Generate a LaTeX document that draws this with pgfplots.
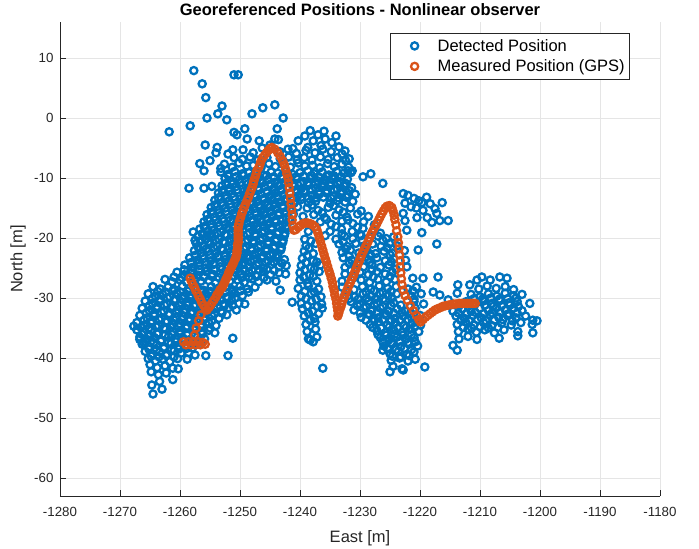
\documentclass[border=0pt]{standalone}
\usepackage{fontspec}
\setmainfont{Liberation Sans}
\usepackage{pgfplots}
\pgfplotsset{compat=1.18}
\definecolor{mblue}{rgb}{0,0.447,0.741}
\definecolor{morange}{rgb}{0.85,0.325,0.098}
\definecolor{axgray}{rgb}{0.15,0.15,0.15}
\definecolor{gridgray}{rgb}{0.9,0.9,0.9}

\pgfplotsset{
  ringmark/.style={only marks, mark=o, mark size=3.6pt, line width=2.3pt,
    mark options={line width=2.3pt, solid},
    legend image code/.code={\path[draw=none,fill=none] (0pt,-4pt) rectangle (42pt,4pt);
      \draw[mark repeat=2,mark phase=2,##1] plot coordinates {(0pt,0pt) (21pt,0pt) (42pt,0pt)};}},
}

\begin{document}
\begin{tikzpicture}
\path[use as bounding box] (-60pt,-53pt) rectangle (639pt,496pt);
\begin{axis}[
  at={(0pt,0pt)}, anchor=south west,
  scale only axis, width=600pt, height=474pt,
  xmin=-1280, xmax=-1180, ymin=-63, ymax=16,
  xtick={-1280,-1270,...,-1180}, ytick={-60,-50,...,10},
  axis x line*=bottom, axis y line*=left,
  axis line style={-, color=axgray, line width=0.8pt},
  every tick/.style={color=axgray, line width=0.8pt},
  tick align=inside, major tick length=6pt,
  grid=major, major grid style={color=gridgray, line width=0.8pt},
  ticklabel style={font=\fontsize{13.3}{15}\selectfont, color=axgray},
  /pgf/number format/assume math mode=true,
  /pgf/number format/1000 sep={},
  xticklabel style={yshift=-8pt},
  yticklabel style={xshift=-3pt},
  xlabel={East [m]}, ylabel={North [m]},
  label style={font=\fontsize{16.5}{19}\selectfont, color=axgray},
  xlabel style={at={(axis description cs:0.5,-0.0885)}, anchor=center},
  ylabel style={at={(axis description cs:-0.07,0.5)}, anchor=center},
  title={Georeferenced Positions - Nonlinear observer},
  title style={font=\fontsize{16.5}{19}\selectfont\bfseries, at={(axis description cs:0.5,1)}, anchor=center, yshift=6.5pt},
  legend style={at={(axis description cs:0.95,0.977)}, anchor=north east,
    draw=axgray, line width=0.6pt, fill=white,
    font=\fontsize{16.5}{19}\selectfont, inner xsep=3pt, inner ysep=4pt,
    row sep=3pt},
  legend cell align=left,
]

% Detected positions
\addplot[ringmark, color=mblue] coordinates {
(-1257.7,7.9) (-1251.0,7.2) (-1250.3,7.2) (-1256.3,5.7) (-1255.7,3.4) (-1255.5,0.0)
(-1253.0,2.0) (-1253.7,0.7) (-1252.2,-0.3) (-1248.0,0.7) (-1246.2,1.7) (-1244.2,2.2)
(-1242.8,0.0) (-1261.8,-2.3) (-1258.3,-1.3) (-1249.2,-1.8) (-1251.0,-2.4) (-1250.5,-2.8)
(-1248.8,-3.5) (-1243.8,-1.8) (-1255.8,-4.5) (-1253.8,-4.9) (-1254.0,-5.8) (-1251.2,-5.3)
(-1256.7,-7.6) (-1256.0,-8.8) (-1255.0,-7.1) (-1253.2,-8.4) (-1258.5,-11.7) (-1256.0,-11.7)
(-1254.7,-11.4) (-1246.8,-3.8) (-1245.0,-4.5) (-1243.6,-3.6)
(-1238.3,-2.1) (-1240.3,-3.8) (-1239.2,-3.0) (-1237.8,-3.8) (-1237.0,-2.8) (-1236.0,-2.2)
(-1235.8,-3.5) (-1234.7,-4.1) (-1234.0,-3.0) (-1236.5,-4.6) (-1238.7,-4.9) (-1233.5,-4.8)
(-1232.5,-5.5) (-1231.8,-6.8) (-1241.2,-5.1) (-1244.2,-3.5)
(-1231.3,-8.8) (-1229.5,-9.8) (-1228.2,-9.3) (-1226.2,-10.9) (-1232.0,-8.8)
(-1249.5,-5.3) (-1247.8,-5.8) (-1243.4,-5.6) (-1242.0,-5.2) (-1240.6,-5.9) (-1239.0,-5.4)
(-1237.5,-5.8) (-1236.2,-5.2) (-1234.8,-5.6) (-1233.0,-6.0) (-1252.0,-6.0) (-1246.3,-5.0)
(-1251.0,-6.6) (-1249.6,-6.9) (-1248.3,-6.5) (-1247.0,-7.0) (-1245.5,-6.6) (-1243.3,-6.8)
(-1241.9,-6.5) (-1240.5,-7.0) (-1239.3,-6.6) (-1238.0,-7.0) (-1236.6,-6.5) (-1235.3,-6.9)
(-1233.8,-6.6) (-1232.4,-7.1)
(-1252.6,-7.7) (-1251.3,-8.2) (-1250.2,-7.5) (-1248.9,-8.0) (-1247.8,-7.9) (-1246.5,-8.3)
(-1245.2,-7.6) (-1244.1,-8.1) (-1242.8,-7.7) (-1241.6,-8.2) (-1240.3,-7.5) (-1239.2,-8.0)
(-1237.9,-7.9) (-1236.7,-8.3) (-1235.4,-7.6) (-1234.3,-8.1) (-1233.0,-7.7) (-1231.9,-8.2)
(-1253.2,-9.0) (-1252.0,-9.4) (-1250.9,-8.9) (-1249.6,-9.3) (-1248.5,-9.1) (-1247.2,-8.8)
(-1246.1,-9.5) (-1244.8,-9.0) (-1243.7,-9.2) (-1242.4,-8.9) (-1241.2,-9.4) (-1240.0,-9.1)
(-1238.7,-8.8) (-1237.6,-9.3) (-1236.3,-9.0) (-1235.2,-9.5) (-1233.9,-8.9) (-1232.7,-9.2)
(-1231.5,-9.1)
(-1252.5,-10.1) (-1251.4,-10.5) (-1250.1,-10.2) (-1249.0,-10.6) (-1247.7,-10.0) (-1246.6,-10.4)
(-1245.3,-10.3) (-1244.2,-10.7) (-1242.9,-10.1) (-1241.8,-10.4) (-1240.5,-10.2) (-1239.4,-10.6)
(-1238.1,-10.0) (-1237.0,-10.5) (-1235.7,-10.3) (-1234.6,-10.1) (-1233.3,-10.6) (-1232.1,-10.2)
(-1253.0,-11.3) (-1251.8,-11.7) (-1250.6,-11.4) (-1249.5,-11.8) (-1248.2,-11.2) (-1247.0,-11.6)
(-1245.9,-11.5) (-1244.6,-11.9) (-1243.5,-11.3) (-1242.2,-11.6) (-1241.0,-11.4) (-1239.8,-11.8)
(-1238.6,-11.2) (-1237.4,-11.7) (-1236.2,-11.5) (-1235.0,-11.3) (-1233.8,-11.8) (-1232.6,-11.4)
(-1231.4,-11.6)
(-1253.6,-12.5) (-1252.4,-12.9) (-1251.3,-12.6) (-1250.0,-13.0) (-1248.9,-12.4) (-1247.6,-12.8)
(-1246.5,-12.7) (-1245.2,-13.1) (-1244.1,-12.5) (-1242.8,-12.8) (-1241.6,-12.6) (-1240.4,-13.0)
(-1239.2,-12.4) (-1238.0,-12.9) (-1236.8,-12.7) (-1235.6,-12.5) (-1234.4,-13.0) (-1233.2,-12.6)
(-1232.0,-12.8) (-1230.8,-12.7)
(-1254.2,-13.7) (-1253.0,-14.1) (-1251.8,-13.8) (-1250.7,-14.2) (-1249.4,-13.6) (-1248.3,-14.0)
(-1247.0,-13.9) (-1245.9,-14.3) (-1244.6,-13.7) (-1243.5,-14.0) (-1242.2,-13.8) (-1241.0,-14.2)
(-1239.8,-13.6) (-1238.6,-14.1) (-1237.4,-13.9) (-1235.0,-14.2) (-1233.8,-13.8) (-1232.5,-14.0)
(-1231.2,-13.9)
(-1254.8,-14.9) (-1253.6,-15.3) (-1252.4,-15.0) (-1251.3,-15.4) (-1250.0,-14.8) (-1248.9,-15.2)
(-1247.6,-15.1) (-1246.5,-15.5) (-1245.2,-14.9) (-1244.1,-15.2) (-1242.8,-15.0) (-1241.6,-15.4)
(-1240.4,-14.8) (-1238.8,-15.0) (-1237.0,-15.4) (-1235.3,-14.9) (-1233.5,-15.3) (-1231.6,-15.0)
(-1229.8,-15.5)
(-1255.5,-16.1) (-1254.3,-16.5) (-1253.2,-16.2) (-1251.9,-16.6) (-1250.8,-16.0) (-1249.5,-16.4)
(-1248.4,-16.3) (-1247.1,-16.7) (-1246.0,-16.1) (-1244.7,-16.4) (-1243.6,-16.2) (-1242.3,-16.6)
(-1241.1,-16.0) (-1239.5,-16.4) (-1237.7,-16.1) (-1235.9,-16.6) (-1234.0,-16.2) (-1232.2,-16.5)
(-1230.4,-16.0) (-1228.6,-16.4)
(-1256.0,-17.3) (-1254.8,-17.7) (-1253.6,-17.4) (-1252.5,-17.8) (-1251.2,-17.2) (-1250.1,-17.6)
(-1248.8,-17.5) (-1247.7,-17.9) (-1246.4,-17.3) (-1245.3,-17.6) (-1244.0,-17.4) (-1242.9,-17.8)
(-1241.6,-17.2) (-1236.6,-17.3) (-1234.8,-17.7) (-1233.0,-17.2) (-1231.2,-17.6) (-1229.4,-17.3)
(-1227.6,-17.8)
(-1256.7,-18.5) (-1255.5,-18.9) (-1254.3,-18.6) (-1253.2,-19.0) (-1251.9,-18.4) (-1250.8,-18.8)
(-1249.5,-18.7) (-1248.4,-19.1) (-1247.1,-18.5) (-1246.0,-18.8) (-1244.7,-18.6) (-1243.6,-19.0)
(-1242.3,-18.4) (-1238.6,-18.9) (-1235.0,-18.9) (-1233.1,-18.5) (-1231.3,-18.9) (-1229.5,-18.4)
(-1227.8,-18.8) (-1257.8,-19.0) (-1257.5,-20.4) (-1255.5,-19.5)
(-1257.0,-19.7) (-1255.8,-20.1) (-1254.6,-19.8) (-1253.5,-20.2) (-1252.2,-19.6) (-1251.1,-20.0)
(-1249.8,-19.9) (-1248.7,-20.3) (-1247.4,-19.7) (-1246.3,-20.0) (-1245.0,-19.8) (-1243.9,-20.2)
(-1242.6,-19.6) (-1239.2,-20.2) (-1235.8,-19.6) (-1234.0,-20.2) (-1232.6,-19.7) (-1231.2,-20.1)
(-1229.8,-19.6) (-1228.4,-20.0) (-1227.0,-19.7) (-1225.6,-20.1) (-1224.4,-19.8)
(-1257.3,-20.9) (-1256.2,-21.3) (-1254.9,-21.0) (-1253.8,-21.4) (-1252.5,-20.8) (-1251.4,-21.2)
(-1250.1,-21.1) (-1249.0,-21.5) (-1247.7,-20.9) (-1246.6,-21.2) (-1245.3,-21.0) (-1244.2,-21.4)
(-1242.9,-20.8) (-1239.0,-21.3) (-1237.4,-20.9) (-1233.5,-21.0) (-1232.1,-21.4) (-1230.7,-20.9)
(-1229.3,-21.3) (-1227.9,-21.0) (-1226.5,-21.4) (-1225.1,-20.9) (-1223.8,-21.3)
(-1257.6,-22.1) (-1256.5,-22.5) (-1255.2,-22.2) (-1254.1,-22.6) (-1252.8,-22.0) (-1251.7,-22.4)
(-1250.4,-22.3) (-1249.3,-22.7) (-1248.0,-22.1) (-1246.9,-22.4) (-1245.6,-22.2) (-1244.5,-22.6)
(-1243.2,-22.0) (-1239.3,-22.2) (-1237.8,-22.6) (-1233.0,-22.4) (-1231.6,-22.0) (-1230.2,-22.5)
(-1228.8,-22.1) (-1227.4,-22.6) (-1226.0,-22.2) (-1224.6,-22.5) (-1222.6,-22.1)
(-1258.4,-23.3) (-1257.2,-23.7) (-1256.0,-23.4) (-1254.9,-23.8) (-1253.6,-23.2) (-1252.5,-23.6)
(-1251.2,-23.5) (-1250.1,-23.9) (-1248.8,-23.3) (-1247.7,-23.6) (-1246.4,-23.4) (-1245.3,-23.8)
(-1244.0,-23.2) (-1242.6,-23.6) (-1239.6,-23.4) (-1237.8,-23.8) (-1232.8,-23.3) (-1231.4,-23.7)
(-1230.0,-23.2) (-1228.6,-23.6) (-1227.2,-23.3) (-1225.8,-23.8) (-1224.4,-23.4) (-1222.4,-23.7)
(-1259.2,-24.5) (-1258.0,-24.9) (-1256.8,-24.6) (-1255.7,-25.0) (-1254.4,-24.4) (-1253.3,-24.8)
(-1252.0,-24.7) (-1250.9,-25.1) (-1249.6,-24.5) (-1248.5,-24.8) (-1247.2,-24.6) (-1246.1,-25.0)
(-1244.8,-24.4) (-1243.5,-24.8) (-1242.3,-24.6) (-1239.8,-24.6) (-1238.2,-25.0) (-1236.6,-24.5)
(-1232.5,-24.9) (-1231.0,-24.5) (-1229.4,-24.8) (-1228.0,-24.4) (-1226.6,-24.9) (-1225.2,-24.5)
(-1222.2,-24.8)
(-1260.5,-25.7) (-1259.3,-26.1) (-1258.1,-25.8) (-1257.0,-26.2) (-1255.7,-25.6) (-1254.6,-26.0)
(-1253.3,-25.9) (-1252.2,-26.3) (-1250.9,-25.7) (-1249.8,-26.0) (-1248.5,-25.8) (-1247.4,-26.2)
(-1246.1,-25.6) (-1244.9,-26.1) (-1243.5,-25.8) (-1242.4,-26.0) (-1240.0,-25.8) (-1238.4,-26.2)
(-1236.8,-25.6) (-1232.5,-26.0) (-1230.0,-25.7) (-1228.6,-26.1) (-1227.2,-25.6) (-1225.8,-26.0)
(-1224.6,-25.7)
(-1262.5,-26.9) (-1261.3,-27.3) (-1260.0,-27.0) (-1258.9,-27.4) (-1257.6,-26.8) (-1256.5,-27.2)
(-1255.2,-27.1) (-1254.1,-27.5) (-1252.8,-26.9) (-1251.7,-27.2) (-1250.4,-27.0) (-1249.3,-27.4)
(-1248.0,-26.8) (-1246.9,-27.3) (-1245.5,-27.0) (-1244.0,-27.2) (-1238.7,-27.6) (-1240.0,-27.0)
(-1237.2,-27.2) (-1233.0,-27.2) (-1229.8,-27.0) (-1228.4,-27.4) (-1227.0,-26.9) (-1225.6,-27.3)
(-1224.2,-26.9) (-1221.2,-26.7) (-1219.5,-26.7) (-1217.0,-26.5) (-1209.7,-26.5) (-1206.7,-26.5)
(-1205.5,-26.7) (-1210.5,-27.0) (-1208.3,-27.0)
(-1264.5,-28.1) (-1263.3,-28.5) (-1262.0,-28.2) (-1260.9,-28.6) (-1259.6,-28.0) (-1258.5,-28.4)
(-1257.2,-28.3) (-1256.1,-28.7) (-1254.8,-28.1) (-1253.7,-28.4) (-1252.4,-28.2) (-1251.3,-28.6)
(-1250.0,-28.0) (-1248.8,-28.5) (-1247.5,-28.2) (-1243.3,-28.7) (-1240.3,-28.4) (-1238.6,-28.0)
(-1236.9,-28.5) (-1233.0,-28.2) (-1231.0,-28.6) (-1229.6,-28.1) (-1228.2,-28.5) (-1226.8,-28.0)
(-1225.4,-28.4) (-1224.0,-28.1) (-1222.0,-28.5) (-1220.6,-28.2) (-1213.7,-27.8) (-1211.7,-27.8)
(-1210.2,-28.5) (-1208.8,-28.0) (-1207.3,-28.4) (-1205.8,-28.1) (-1204.4,-28.6) (-1217.8,-29.0)
(-1265.3,-29.3) (-1264.1,-29.7) (-1262.9,-29.4) (-1261.7,-29.8) (-1260.5,-29.2) (-1259.3,-29.6)
(-1258.1,-29.5) (-1256.9,-29.9) (-1255.7,-29.3) (-1254.5,-29.6) (-1253.3,-29.4) (-1252.1,-29.8)
(-1250.9,-29.2) (-1249.6,-29.6) (-1239.8,-29.7) (-1238.1,-29.3) (-1236.5,-29.8) (-1232.5,-29.4)
(-1230.9,-29.8) (-1229.5,-29.3) (-1228.1,-29.7) (-1226.7,-29.2) (-1225.3,-29.6) (-1223.9,-29.3)
(-1221.4,-29.7) (-1219.8,-29.3) (-1216.7,-29.5) (-1213.8,-29.2) (-1211.5,-29.4) (-1210.0,-29.8)
(-1208.6,-29.3) (-1207.2,-29.7) (-1205.8,-29.2) (-1204.4,-29.6) (-1203.0,-29.4)
(-1265.8,-30.5) (-1264.6,-30.9) (-1263.4,-30.6) (-1262.2,-31.0) (-1261.0,-30.4) (-1259.8,-30.8)
(-1258.6,-30.7) (-1257.4,-31.1) (-1256.2,-30.5) (-1255.0,-30.8) (-1253.8,-30.6) (-1252.6,-31.0)
(-1251.4,-30.4) (-1250.2,-30.9) (-1249.2,-31.0) (-1241.3,-30.7) (-1239.8,-30.9) (-1238.1,-30.5)
(-1236.4,-31.0) (-1231.5,-30.6) (-1230.0,-31.0) (-1228.6,-30.5) (-1227.2,-30.9) (-1225.8,-30.4)
(-1224.4,-30.8) (-1221.0,-30.6) (-1219.4,-31.0) (-1215.3,-30.3) (-1212.3,-30.6) (-1210.8,-31.0)
(-1209.4,-30.5) (-1208.0,-30.9) (-1206.6,-30.4) (-1205.2,-30.8) (-1203.8,-30.6) (-1201.7,-30.9)
(-1266.3,-31.7) (-1265.1,-32.1) (-1263.9,-31.8) (-1262.7,-32.2) (-1261.5,-31.6) (-1260.3,-32.0)
(-1259.1,-31.9) (-1257.9,-32.3) (-1256.7,-31.7) (-1255.5,-32.0) (-1254.3,-31.8) (-1253.1,-32.2)
(-1251.9,-31.6) (-1250.6,-32.0) (-1239.6,-31.8) (-1237.9,-32.2) (-1236.3,-31.7) (-1231.0,-32.0)
(-1229.4,-31.6) (-1228.0,-32.1) (-1226.6,-31.7) (-1225.2,-32.2) (-1223.8,-31.8) (-1222.4,-32.2)
(-1220.8,-31.7) (-1214.5,-32.2) (-1213.0,-31.8) (-1211.5,-32.2) (-1210.0,-31.7) (-1208.6,-32.1)
(-1207.2,-31.6) (-1205.8,-32.0) (-1204.4,-31.7) (-1203.0,-32.1)
(-1266.7,-32.9) (-1265.5,-33.3) (-1264.3,-33.0) (-1263.1,-33.4) (-1261.9,-32.8) (-1260.7,-33.2)
(-1259.5,-33.1) (-1258.3,-33.5) (-1257.1,-32.9) (-1255.9,-33.2) (-1254.7,-33.0) (-1253.5,-33.4)
(-1252.2,-32.8) (-1239.3,-33.0) (-1237.6,-33.4) (-1229.8,-33.2) (-1228.4,-32.8) (-1227.0,-33.3)
(-1225.6,-32.9) (-1224.2,-33.4) (-1222.8,-33.0) (-1221.4,-33.3) (-1220.0,-32.9) (-1214.0,-33.0)
(-1212.6,-33.4) (-1211.2,-32.9) (-1209.8,-33.3) (-1208.3,-32.8) (-1206.9,-33.2) (-1205.4,-32.9)
(-1204.0,-33.3) (-1202.4,-33.0) (-1201.2,-33.7) (-1200.5,-33.8)
(-1267.2,-34.1) (-1266.0,-34.5) (-1264.8,-34.2) (-1263.6,-34.6) (-1262.4,-34.0) (-1261.2,-34.4)
(-1260.0,-34.3) (-1258.8,-34.7) (-1257.6,-34.1) (-1256.4,-34.4) (-1255.2,-34.2) (-1254.0,-34.6)
(-1267.7,-34.7) (-1239.0,-34.4) (-1237.5,-34.0) (-1228.3,-34.4) (-1226.9,-34.0) (-1225.5,-34.5)
(-1224.1,-34.1) (-1222.7,-34.6) (-1221.3,-34.2) (-1219.9,-34.5) (-1213.8,-34.4) (-1212.4,-34.0)
(-1211.0,-34.5) (-1209.4,-34.1) (-1208.0,-34.6) (-1206.4,-34.2) (-1204.8,-34.5) (-1203.2,-34.1)
(-1201.3,-34.4)
(-1267.2,-35.3) (-1266.0,-35.7) (-1264.8,-35.4) (-1263.6,-35.8) (-1262.4,-35.2) (-1261.2,-35.6)
(-1260.0,-35.5) (-1258.8,-35.9) (-1257.6,-35.3) (-1256.4,-35.6) (-1255.2,-35.4) (-1254.2,-35.8)
(-1238.8,-35.6) (-1237.4,-35.2) (-1227.2,-35.4) (-1225.8,-35.8) (-1224.4,-35.3) (-1223.0,-35.7)
(-1221.6,-35.2) (-1220.2,-35.6) (-1213.6,-35.6) (-1212.0,-35.2) (-1210.6,-35.7) (-1209.2,-35.3)
(-1207.6,-35.8) (-1206.0,-35.3) (-1203.7,-35.6) (-1201.2,-35.8)
(-1266.7,-36.5) (-1265.5,-36.9) (-1264.3,-36.6) (-1263.1,-37.0) (-1261.9,-36.4) (-1260.7,-36.8)
(-1259.5,-36.7) (-1258.3,-37.1) (-1257.1,-36.5) (-1255.9,-36.8) (-1266.7,-36.9) (-1266.0,-37.5)
(-1238.6,-36.8) (-1237.2,-36.5) (-1238.3,-37.0) (-1237.8,-37.3) (-1226.6,-36.6) (-1225.2,-37.0)
(-1223.8,-36.5) (-1222.4,-36.9) (-1221.0,-36.6) (-1213.5,-36.8) (-1212.0,-36.4) (-1210.5,-36.9)
(-1206.8,-36.7) (-1203.7,-36.3) (-1251.2,-36.7)
(-1266.3,-37.7) (-1265.1,-38.1) (-1263.9,-37.8) (-1262.7,-38.2) (-1261.5,-37.6) (-1260.3,-38.0)
(-1259.1,-37.9) (-1257.9,-38.3) (-1256.7,-37.7) (-1226.0,-38.0) (-1224.6,-37.6) (-1223.2,-38.1)
(-1221.8,-37.7) (-1220.4,-38.0) (-1214.5,-37.9) (-1213.8,-38.7)
(-1265.8,-38.9) (-1264.6,-39.3) (-1263.4,-39.0) (-1262.2,-39.4) (-1261.0,-38.8) (-1259.8,-39.2)
(-1258.6,-39.1) (-1257.5,-39.5) (-1226.2,-38.7) (-1225.0,-39.3) (-1223.6,-38.9) (-1222.2,-39.4)
(-1221.0,-39.0) (-1255.7,-39.6) (-1252.0,-39.6)
(-1265.3,-40.1) (-1264.1,-40.5) (-1262.9,-40.2) (-1261.7,-40.6) (-1260.4,-40.1) (-1258.8,-40.2)
(-1224.8,-40.4) (-1223.4,-40.0) (-1222.0,-40.5) (-1220.8,-40.2)
(-1265.0,-41.1) (-1263.8,-41.6) (-1262.5,-41.3) (-1261.2,-41.7) (-1260.3,-41.8) (-1236.2,-41.7)
(-1224.5,-41.4) (-1223.0,-41.8) (-1219.2,-41.5)
(-1264.8,-42.3) (-1263.6,-42.8) (-1262.3,-42.5) (-1225.0,-42.3) (-1222.8,-42.0)
(-1264.7,-44.5) (-1263.4,-43.9) (-1261.2,-43.6) (-1264.5,-46.0) (-1263.0,-45.2)
(-1222.8,-12.6) (-1222.0,-12.9) (-1222.5,-14.2) (-1222.8,-15.9) (-1222.5,-17.1) (-1219.7,-14.1)
(-1219.5,-15.4) (-1218.3,-14.3) (-1217.5,-15.1) (-1216.3,-14.1) (-1220.5,-16.6) (-1218.8,-16.6)
(-1217.2,-15.9) (-1218.0,-17.4) (-1216.7,-17.1) (-1215.3,-17.1) (-1219.7,-19.1) (-1222.2,-18.7)
(-1220.3,-22.0) (-1217.2,-21.0) (-1221.0,-13.4) (-1220.6,-15.0) (-1218.9,-13.2)
(-1251.9,-9.7) (-1250.7,-9.8) (-1249.4,-9.6) (-1248.1,-9.8) (-1246.9,-9.7) (-1245.6,-9.6)
(-1244.4,-9.8) (-1243.1,-9.7) (-1241.9,-9.6) (-1240.6,-9.8) (-1239.4,-9.7) (-1238.1,-9.6)
(-1236.9,-9.8) (-1235.6,-9.7) (-1234.4,-9.6) (-1233.1,-9.8)
(-1252.4,-10.9) (-1251.2,-11.0) (-1249.9,-10.8) (-1248.7,-11.0) (-1247.4,-10.9) (-1246.2,-10.8)
(-1244.9,-11.0) (-1243.7,-10.9) (-1242.4,-10.8) (-1241.2,-11.0) (-1239.9,-10.9) (-1238.7,-10.8)
(-1237.4,-11.0) (-1236.2,-10.9) (-1234.9,-10.8) (-1233.7,-11.0) (-1232.4,-10.9)
(-1253.0,-12.1) (-1251.8,-12.2) (-1250.5,-12.0) (-1249.3,-12.2) (-1248.0,-12.1) (-1246.8,-12.0)
(-1245.5,-12.2) (-1244.3,-12.1) (-1243.0,-12.0) (-1240.5,-12.2) (-1239.3,-12.1) (-1238.0,-12.0)
(-1236.8,-12.2) (-1235.5,-12.1) (-1234.3,-12.0) (-1233.0,-12.2) (-1231.8,-12.1)
(-1253.6,-13.3) (-1252.3,-13.4) (-1251.1,-13.2) (-1249.8,-13.4) (-1248.6,-13.3) (-1247.3,-13.2)
(-1246.1,-13.4) (-1244.8,-13.3) (-1243.6,-13.2) (-1242.3,-13.4) (-1241.1,-13.3) (-1239.8,-13.2)
(-1238.6,-13.4) (-1237.3,-13.3) (-1236.1,-13.2) (-1234.8,-13.4) (-1233.6,-13.3) (-1232.3,-13.2)
(-1254.2,-14.5) (-1252.9,-14.6) (-1251.7,-14.4) (-1250.4,-14.6) (-1249.2,-14.5) (-1247.9,-14.4)
(-1246.7,-14.6) (-1245.4,-14.5) (-1244.2,-14.4) (-1242.9,-14.6) (-1241.7,-14.5) (-1238.0,-14.5)
(-1234.4,-14.6)
(-1254.8,-15.7) (-1253.5,-15.8) (-1252.3,-15.6) (-1251.0,-15.8) (-1249.8,-15.7) (-1248.5,-15.6)
(-1247.3,-15.8) (-1246.0,-15.7) (-1244.8,-15.6) (-1243.5,-15.8) (-1242.3,-15.7) (-1236.3,-15.8)
(-1232.8,-15.7)
(-1255.4,-16.9) (-1254.1,-17.0) (-1252.9,-16.8) (-1251.6,-17.0) (-1250.4,-16.9) (-1249.1,-16.8)
(-1247.9,-17.0) (-1246.6,-16.9) (-1245.4,-16.8) (-1244.1,-17.0) (-1242.9,-16.9) (-1241.8,-16.8)
(-1235.6,-16.9) (-1232.0,-17.0)
(-1256.0,-18.1) (-1254.7,-18.2) (-1253.5,-18.0) (-1252.2,-18.2) (-1251.0,-18.1) (-1249.7,-18.0)
(-1248.5,-18.2) (-1247.2,-18.1) (-1246.0,-18.0) (-1244.7,-18.2) (-1243.5,-18.1) (-1242.3,-18.0)
(-1234.0,-18.1) (-1230.4,-18.2)
(-1256.3,-19.3) (-1255.0,-19.4) (-1253.8,-19.2) (-1252.5,-19.4) (-1251.3,-19.3) (-1250.0,-19.2)
(-1248.8,-19.4) (-1247.5,-19.3) (-1246.3,-19.2) (-1245.0,-19.4) (-1243.8,-19.3) (-1242.5,-19.2)
(-1233.0,-19.3) (-1230.0,-19.4) (-1226.6,-19.2)
(-1256.6,-20.5) (-1255.3,-20.6) (-1254.1,-20.4) (-1252.8,-20.6) (-1251.6,-20.5) (-1250.3,-20.4)
(-1249.1,-20.6) (-1247.8,-20.5) (-1246.6,-20.4) (-1245.3,-20.6) (-1244.1,-20.5) (-1242.8,-20.4)
(-1238.2,-20.5) (-1232.8,-20.6) (-1229.6,-20.5) (-1226.2,-20.4)
(-1256.9,-21.7) (-1255.6,-21.8) (-1254.4,-21.6) (-1253.1,-21.8) (-1251.9,-21.7) (-1250.6,-21.6)
(-1249.4,-21.8) (-1248.1,-21.7) (-1246.9,-21.6) (-1245.6,-21.8) (-1244.4,-21.7) (-1243.1,-21.6)
(-1238.5,-21.7) (-1232.4,-21.8) (-1229.0,-21.7) (-1225.5,-21.6)
(-1257.5,-22.9) (-1256.2,-23.0) (-1255.0,-22.8) (-1253.7,-23.0) (-1252.5,-22.9) (-1251.2,-22.8)
(-1250.0,-23.0) (-1248.7,-22.9) (-1247.5,-22.8) (-1246.2,-23.0) (-1245.0,-22.9) (-1243.7,-22.8)
(-1238.8,-22.9) (-1231.8,-23.0) (-1228.2,-22.9) (-1225.0,-22.8)
(-1258.2,-24.1) (-1256.9,-24.2) (-1255.7,-24.0) (-1254.4,-24.2) (-1253.2,-24.1) (-1251.9,-24.0)
(-1250.7,-24.2) (-1249.4,-24.1) (-1248.2,-24.0) (-1246.9,-24.2) (-1245.7,-24.1) (-1244.4,-24.0)
(-1243.0,-24.2) (-1239.0,-24.1) (-1237.2,-24.0) (-1231.8,-24.2) (-1228.4,-24.1) (-1224.8,-24.0)
(-1259.3,-25.3) (-1258.0,-25.4) (-1256.8,-25.2) (-1255.5,-25.4) (-1254.3,-25.3) (-1253.0,-25.2)
(-1251.8,-25.4) (-1250.5,-25.3) (-1249.3,-25.2) (-1248.0,-25.4) (-1246.8,-25.3) (-1245.5,-25.2)
(-1244.3,-25.4) (-1239.2,-25.3) (-1237.6,-25.2) (-1231.5,-25.4) (-1228.0,-25.3) (-1224.0,-25.2)
(-1261.0,-26.5) (-1259.7,-26.6) (-1258.5,-26.4) (-1257.2,-26.6) (-1256.0,-26.5) (-1254.7,-26.4)
(-1253.5,-26.6) (-1252.2,-26.5) (-1251.0,-26.4) (-1249.7,-26.6) (-1248.5,-26.5) (-1247.2,-26.4)
(-1246.0,-26.6) (-1239.4,-26.5) (-1237.8,-26.4) (-1231.0,-26.6) (-1227.8,-26.5) (-1225.0,-26.4)
(-1263.7,-28.9) (-1262.4,-29.0) (-1261.2,-28.8) (-1259.9,-29.0) (-1258.7,-28.9) (-1257.4,-28.8)
(-1256.2,-29.0) (-1254.9,-28.9) (-1253.7,-28.8) (-1252.4,-29.0) (-1251.2,-28.9) (-1249.9,-28.8)
(-1248.6,-29.0)
(-1264.6,-30.1) (-1263.3,-30.2) (-1262.1,-30.0) (-1260.8,-30.2) (-1259.6,-30.1) (-1258.3,-30.0)
(-1257.1,-30.2) (-1255.8,-30.1) (-1254.6,-30.0) (-1253.3,-30.2) (-1252.1,-30.1) (-1250.8,-30.0)
(-1265.1,-31.3) (-1263.8,-31.4) (-1262.6,-31.2) (-1261.3,-31.4) (-1260.1,-31.3) (-1258.8,-31.2)
(-1257.6,-31.4) (-1256.3,-31.3) (-1255.1,-31.2) (-1253.8,-31.4) (-1252.6,-31.3) (-1251.2,-31.2)
(-1265.6,-32.5) (-1264.3,-32.6) (-1263.1,-32.4) (-1261.8,-32.6) (-1260.6,-32.5) (-1259.3,-32.4)
(-1258.1,-32.6) (-1256.8,-32.5) (-1255.6,-32.4) (-1254.3,-32.6) (-1253.0,-32.5)
(-1266.0,-33.7) (-1264.7,-33.8) (-1263.5,-33.6) (-1262.2,-33.8) (-1261.0,-33.7) (-1259.7,-33.6)
(-1258.5,-33.8) (-1257.2,-33.7) (-1256.0,-33.6) (-1254.7,-33.8)
(-1266.5,-34.9) (-1265.2,-35.0) (-1264.0,-34.8) (-1262.7,-35.0) (-1261.5,-34.9) (-1260.2,-34.8)
(-1259.0,-35.0) (-1257.7,-34.9) (-1256.5,-34.8) (-1255.0,-35.0)
(-1266.3,-36.1) (-1265.0,-36.2) (-1263.8,-36.0) (-1262.5,-36.2) (-1261.3,-36.1) (-1260.0,-36.0)
(-1258.8,-36.2) (-1257.5,-36.1) (-1256.3,-36.0)
(-1265.7,-37.3) (-1264.4,-37.4) (-1263.2,-37.2) (-1261.9,-37.4) (-1260.7,-37.3) (-1259.4,-37.2)
(-1258.2,-37.4)
(-1265.2,-38.5) (-1263.9,-38.6) (-1262.7,-38.4) (-1261.4,-38.6) (-1260.2,-38.5) (-1258.9,-38.4)
(-1264.8,-39.7) (-1263.5,-39.8) (-1262.3,-39.6) (-1261.0,-39.8)
(-1232.0,-28.9) (-1229.0,-29.0) (-1227.6,-28.8) (-1226.2,-29.0) (-1224.8,-28.9) (-1221.2,-28.8)
(-1231.8,-30.1) (-1230.3,-30.2) (-1228.9,-30.0) (-1227.5,-30.2) (-1226.1,-30.1) (-1224.7,-30.0)
(-1221.0,-30.2)
(-1230.4,-31.3) (-1229.0,-31.4) (-1227.6,-31.2) (-1226.2,-31.4) (-1224.8,-31.3) (-1223.2,-31.2)
(-1221.6,-31.4)
(-1230.0,-32.5) (-1228.6,-32.6) (-1227.2,-32.4) (-1225.8,-32.6) (-1224.4,-32.5) (-1223.0,-32.4)
(-1221.6,-32.6)
(-1229.0,-33.7) (-1227.6,-33.8) (-1226.2,-33.6) (-1224.8,-33.8) (-1223.4,-33.7) (-1222.0,-33.6)
(-1220.6,-33.8)
(-1227.9,-34.9) (-1226.5,-35.0) (-1225.1,-34.8) (-1223.7,-35.0) (-1222.3,-34.9) (-1220.9,-34.8)
(-1227.0,-36.1) (-1225.6,-36.2) (-1224.2,-36.0) (-1222.8,-36.2) (-1221.4,-36.1)
(-1226.2,-37.3) (-1224.8,-37.4) (-1223.4,-37.2) (-1222.0,-37.4) (-1220.8,-37.3)
(-1225.4,-38.5) (-1224.0,-38.6) (-1222.6,-38.4) (-1221.4,-38.6)
(-1224.6,-39.7) (-1223.2,-39.8) (-1221.8,-39.6)
(-1239.2,-28.9) (-1237.6,-29.0) (-1239.0,-30.1) (-1237.3,-30.2) (-1238.8,-31.3) (-1237.1,-31.4)
(-1238.6,-32.5) (-1236.9,-32.6) (-1238.3,-33.7)
(-1211.0,-30.1) (-1209.6,-30.2) (-1208.2,-30.0) (-1206.8,-30.2) (-1205.4,-30.1) (-1204.0,-30.0)
(-1213.5,-31.3) (-1212.0,-31.4) (-1209.2,-31.2) (-1207.8,-31.4) (-1206.4,-31.3) (-1205.0,-31.2)
(-1203.6,-31.4)
(-1213.6,-32.5) (-1212.2,-32.6) (-1210.8,-32.4) (-1209.4,-32.6) (-1208.0,-32.5) (-1206.6,-32.4)
(-1205.2,-32.6) (-1203.8,-32.5)
(-1213.2,-33.7) (-1211.8,-33.8) (-1210.4,-33.6) (-1209.0,-33.8) (-1207.6,-33.7) (-1206.2,-33.6)
(-1204.6,-33.8)
(-1212.8,-34.9) (-1211.4,-35.0) (-1210.0,-34.8) (-1208.6,-35.0) (-1207.0,-34.9)
(-1221.5,-14.8) (-1220.2,-13.8)
};

% Measured positions (GPS)
\addplot[ringmark, color=morange] coordinates {
(-1259.4,-37.3) (-1259.0,-37.8) (-1258.6,-37.3) (-1258.2,-37.8) (-1257.8,-37.3) (-1257.4,-37.8)
(-1257.0,-37.3) (-1256.6,-37.8) (-1256.2,-37.4) (-1255.8,-37.7)
(-1257.6,-36.2) (-1257.3,-35.0) (-1256.9,-33.8) (-1256.5,-32.8)
(-1258.3,-26.7) (-1258.1,-27.2) (-1257.9,-27.7) (-1257.6,-28.2) (-1257.4,-28.7) (-1257.1,-29.2)
(-1256.9,-29.7) (-1256.6,-30.2) (-1256.4,-30.7) (-1256.1,-31.2) (-1255.8,-31.6) (-1255.5,-32.0)
(-1255.2,-31.6) (-1254.9,-31.2) (-1254.6,-30.7) (-1254.3,-30.3) (-1254.0,-29.8) (-1253.8,-29.4)
(-1253.5,-29.0) (-1253.3,-28.6) (-1253.0,-28.3) (-1252.8,-27.9) (-1252.6,-27.5) (-1252.4,-27.0)
(-1252.2,-26.6) (-1252.0,-26.2) (-1251.9,-25.8) (-1251.7,-25.4) (-1251.5,-25.0) (-1251.3,-24.6)
(-1251.1,-24.2) (-1250.9,-23.7) (-1250.7,-23.3) (-1250.6,-22.9) (-1250.5,-22.5) (-1250.5,-22.1)
(-1250.4,-21.6) (-1250.4,-21.1) (-1250.3,-20.7) (-1250.3,-20.2) (-1250.3,-19.8) (-1250.3,-19.3)
(-1250.3,-18.8) (-1250.3,-18.2) (-1250.2,-17.7) (-1250.1,-17.2) (-1249.9,-16.6) (-1249.7,-15.9)
(-1249.5,-15.4) (-1249.3,-14.9) (-1249.1,-14.4) (-1248.8,-13.7) (-1248.6,-13.2) (-1248.4,-12.6)
(-1248.2,-12.1) (-1248.0,-11.6) (-1247.8,-11.0) (-1247.7,-10.5) (-1247.5,-9.9) (-1247.3,-9.3)
(-1247.2,-8.8) (-1246.9,-8.3) (-1246.7,-7.8) (-1246.5,-7.2) (-1246.2,-6.6) (-1245.9,-6.2)
(-1245.6,-5.8) (-1245.3,-5.4) (-1245.0,-5.1) (-1244.7,-4.9)
(-1244.2,-5.2) (-1243.7,-5.8) (-1243.3,-6.4) (-1242.9,-7.1) (-1242.6,-7.8) (-1242.4,-8.5)
(-1242.2,-9.3) (-1242.0,-10.0) (-1241.9,-10.8) (-1241.8,-11.6)
(-1241.7,-12.5) (-1241.6,-13.4) (-1241.5,-14.3) (-1241.4,-15.2) (-1241.3,-16.1) (-1241.3,-17.0)
(-1241.2,-17.9) (-1241.0,-18.7)
(-1240.7,-18.6) (-1240.3,-18.2) (-1239.9,-17.9) (-1239.5,-17.6) (-1239.1,-17.5) (-1238.7,-17.5)
(-1238.3,-17.6) (-1237.9,-17.8) (-1237.5,-18.1) (-1237.2,-18.6) (-1237.0,-19.2)
(-1236.8,-19.9) (-1236.6,-20.6) (-1236.4,-21.3) (-1236.2,-22.0) (-1236.0,-22.7) (-1235.8,-23.4)
(-1235.6,-24.0) (-1235.4,-24.7) (-1235.2,-25.4) (-1235.0,-26.0) (-1234.8,-26.7) (-1234.6,-27.4)
(-1234.5,-28.1) (-1234.3,-28.8) (-1234.2,-29.5) (-1234.0,-30.2) (-1233.9,-30.9) (-1233.8,-31.5)
(-1233.7,-32.1) (-1233.6,-32.6) (-1233.7,-33.0)
(-1233.55,-32.5) (-1233.4,-32.0) (-1233.2,-31.5) (-1233.05,-31.0) (-1232.9,-30.5) (-1232.7,-30.0)
(-1232.5,-29.5) (-1232.3,-29.0) (-1232.1,-28.5) (-1231.9,-28.0) (-1231.65,-27.5) (-1231.45,-27.0)
(-1231.2,-26.5) (-1231.0,-26.0) (-1230.8,-25.5) (-1230.6,-25.0) (-1230.4,-24.5) (-1230.2,-24.0)
(-1230.0,-23.5) (-1229.8,-23.0) (-1229.6,-22.5) (-1229.35,-22.0) (-1229.1,-21.5) (-1228.85,-21.0)
(-1228.6,-20.5) (-1228.4,-20.0) (-1228.2,-19.5) (-1227.95,-19.0) (-1227.7,-18.5) (-1227.4,-18.0)
(-1227.15,-17.5) (-1226.9,-17.0) (-1226.65,-16.5) (-1226.4,-16.0) (-1226.1,-15.5) (-1225.8,-15.0)
(-1225.5,-14.7) (-1225.1,-14.6) (-1224.7,-14.9) (-1224.5,-15.5) (-1224.3,-16.2) (-1224.2,-16.9)
(-1224.0,-17.8) (-1223.9,-18.8) (-1223.7,-19.8) (-1223.6,-20.8) (-1223.5,-21.8) (-1223.4,-22.8)
(-1223.3,-23.8) (-1223.3,-24.8) (-1223.2,-25.8) (-1223.1,-26.8) (-1223.0,-27.8) (-1222.8,-28.7)
(-1222.5,-29.6) (-1222.1,-30.4) (-1221.6,-31.3) (-1221.1,-32.1) (-1220.6,-32.9) (-1220.2,-33.6)
(-1219.9,-34.0) (-1219.5,-33.6) (-1219.1,-33.2) (-1218.7,-32.9) (-1218.3,-32.6) (-1217.9,-32.3)
(-1217.5,-32.0) (-1217.1,-31.8) (-1216.6,-31.6) (-1216.2,-31.4) (-1215.8,-31.3) (-1215.3,-31.2)
(-1214.9,-31.1) (-1214.4,-31.0) (-1214.0,-31.0) (-1213.5,-30.9) (-1213.0,-30.9) (-1212.6,-30.9)
(-1212.1,-30.9) (-1211.6,-30.9) (-1211.2,-30.9) (-1210.8,-30.9)
};

\legend{Detected Position, Measured Position (GPS)}
\end{axis}
\end{tikzpicture}
\end{document}
